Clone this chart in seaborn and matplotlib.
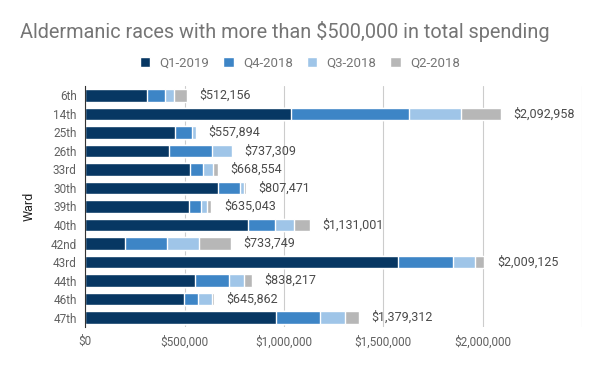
import pandas as pd
import matplotlib.pyplot as plt
import seaborn as sns

# data (dollars)
wards = ['6th', '14th', '25th', '26th', '33rd', '30th', '39th', '40th', '42nd', '43rd', '44th', '46th', '47th']
q1_2019 = [312000, 1036000, 453000, 423000, 529000, 670000, 524000, 819000, 201000, 1576000, 554000, 498000, 962000]
q4_2018 = [91000, 595000, 86000, 216000, 65000, 110000, 58000, 138000, 212000, 277000, 171000, 71000, 221000]
q3_2018 = [45000, 262000, 19000, 98000, 50000, 19000, 32000, 94000, 161000, 111000, 72000, 67000, 126000]
q2_2018 = [64156, 199958, 0, 0, 24554, 8471, 21043, 80001, 159749, 45125, 41217, 9862, 70312]
totals = ['$512,156', '$2,092,958', '$557,894', '$737,309', '$668,554', '$807,471', '$635,043',
          '$1,131,001', '$733,749', '$2,009,125', '$838,217', '$645,862', '$1,379,312']

series = ['Q1-2019', 'Q4-2018', 'Q3-2018', 'Q2-2018']
colors = ['#073763', '#3d85c6', '#9fc5e8', '#b7b7b7']

df = pd.DataFrame({'Ward': wards, 'Q1-2019': q1_2019, 'Q4-2018': q4_2018,
                   'Q3-2018': q3_2018, 'Q2-2018': q2_2018})
# cumulative sums so the stacks can be drawn back to front
cum = df[series].cumsum(axis=1)

sns.set_style('white')
plt.rcParams['font.family'] = ['Roboto', 'DejaVu Sans']

fig, ax = plt.subplots(figsize=(6, 3.71), dpi=100)
fig.subplots_adjust(left=0.142, right=0.97, top=0.768, bottom=0.119)

for name, col in reversed(list(zip(series, colors))):
    sns.barplot(x=cum[name], y=df['Ward'], orient='h', color=col, width=0.68,
                saturation=1, ax=ax, label=name, zorder=3)

for i, t in enumerate(totals):
    ax.annotate(t, (cum['Q2-2018'][i], i), xytext=(9, 0), textcoords='offset points',
                va='center', ha='left', fontsize=9, color='#4a4a4a')

ax.set_xlim(0, 2500000)
ticks = [0, 500000, 1000000, 1500000, 2000000, 2500000]
ax.set_xticks(ticks)
ax.set_xticklabels(['$0', '$500,000', '$1,000,000', '$1,500,000', '$2,000,000', ''])
ax.grid(axis='x', color='#cccccc', linewidth=0.8, zorder=0)
ax.set_axisbelow(True)
for s in ['top', 'right', 'bottom']:
    ax.spines[s].set_visible(False)
ax.spines['left'].set_color('#333333')
ax.spines['left'].set_linewidth(0.8)
ax.spines['left'].set_zorder(4)
ax.tick_params(axis='both', length=0, labelsize=8.5, labelcolor='#616161', pad=6)
ax.set_xlabel('')
ax.set_ylabel('Ward', fontsize=9, color='#222222', labelpad=11)

handles, labels = ax.get_legend_handles_labels()
order = [labels.index(s) for s in series]
ax.legend([handles[k] for k in order], series, loc='lower center', bbox_to_anchor=(0.432, 1.018),
          ncol=4, frameon=False, fontsize=9.5, labelcolor='#757575', handlelength=0.8,
          handleheight=0.8, columnspacing=1.05, handletextpad=0.7)

fig.text(0.033, 0.915, 'Aldermanic races with more than $500,000 in total spending',
         fontsize=14.3, color='#757575', ha='left', va='center')

plt.savefig('out.png', dpi=100)
